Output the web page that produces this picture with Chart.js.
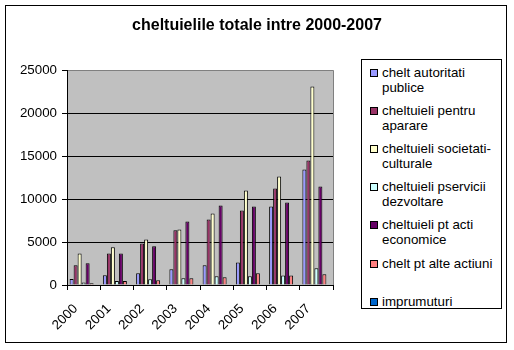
<!DOCTYPE html>
<html>
<head>
<meta charset="utf-8">
<script src="https://cdn.jsdelivr.net/npm/chart.js@4.4.1/dist/chart.umd.min.js"></script>
<style>
  html, body { margin:0; padding:0; background:#fff; }
  #wrap { position:relative; width:514px; height:350px; }
  #c { position:absolute; left:0; top:0; }
  #legend { position:absolute; left:361px; top:59px; width:141px; height:250px; border:1px solid #000; background:#fff;
            font-family: Arial, "Liberation Sans", sans-serif; font-size:13.33px; color:#000; box-sizing:border-box; }
  .li { position:absolute; left:0; width:140px; }
  .sw { position:absolute; left:8px; top:4px; width:6px; height:6px; border:1px solid #000; }
  .tx { position:absolute; left:20px; top:0; width:119px; line-height:15px; white-space:normal; }
</style>
</head>
<body>
<div id="wrap">
  <canvas id="c" width="514" height="350"></canvas>
  <div id="legend"></div>
</div>
<script>
const years = ['2000','2001','2002','2003','2004','2005','2006','2007'];
const seriesNames = ['chelt autoritati publice','cheltuieli pentru aparare','cheltuieli societati-culturale','cheltuieli pservicii dezvoltare','cheltuieli pt acti economice','chelt pt alte actiuni','imprumuturi'];
const autoritati  = [700, 1130, 1360, 1820, 2290, 2630, 9150, 13450];
const aparare     = [2300, 3680, 4840, 6360, 7630, 8680, 11240, 14490];
const societati   = [3680, 4380, 5310, 6470, 8330, 11010, 12640, 23100];
const pservicii   = [300, 460, 660, 780, 1010, 1010, 1120, 1940];
const economice   = [2520, 3680, 4500, 7400, 9260, 9150, 9610, 11470];
const alte        = [200, 460, 540, 780, 900, 1360, 1120, 1240];
const imprumuturi = [null, null, null, null, null, null, null, null];
const yTicks = [0, 5000, 10000, 15000, 20000, 25000];
const colors = ['#9999FF','#993366','#FFFFCC','#CCFFFF','#660066','#FF8080','#0066CC'];
const seriesData = [autoritati, aparare, societati, pservicii, economice, alte, imprumuturi];

const FONT = 'Arial, "Liberation Sans", sans-serif';

const datasets = seriesData.map((d, i) => ({
  label: seriesNames[i],
  data: d,
  backgroundColor: colors[i],
  borderColor: '#000',
  borderWidth: 1,
  borderSkipped: 'bottom',
  categoryPercentage: 0.842,
  barPercentage: 1.0
}));

const decor = {
  id: 'decor',
  beforeDraw(chart) {
    const ctx = chart.ctx, a = chart.chartArea;
    ctx.save();
    ctx.fillStyle = '#fff';
    ctx.fillRect(0, 0, chart.width, chart.height);
    ctx.fillStyle = '#C0C0C0';
    ctx.fillRect(a.left, a.top, a.right - a.left, a.bottom - a.top);
    ctx.restore();
  },
  afterDraw(chart) {
    const ctx = chart.ctx, a = chart.chartArea;
    ctx.save();
    ctx.strokeStyle = '#808080';
    ctx.lineWidth = 1;
    ctx.beginPath();
    ctx.moveTo(Math.round(a.right) + 0.5, a.top);
    ctx.lineTo(Math.round(a.right) + 0.5, a.bottom);
    ctx.stroke();
    ctx.strokeStyle = '#000';
    ctx.strokeRect(5.5, 5.5, 501, 337);
    ctx.restore();
  }
};

new Chart(document.getElementById('c'), {
  type: 'bar',
  data: { labels: years, datasets },
  options: {
    responsive: false,
    animation: false,
    devicePixelRatio: 1,
    layout: { padding: 0 },
    plugins: {
      legend: { display: false },
      tooltip: { enabled: false },
      title: {
        display: true,
        text: 'cheltuielile totale intre 2000-2007',
        color: '#000',
        font: { family: FONT, size: 16, weight: 'bold', lineHeight: 1.2 },
        padding: { top: 16, bottom: 35 }
      }
    },
    scales: {
      x: {
        grid: { drawOnChartArea: false, offset: true, tickLength: 5, color: '#000', tickColor: '#000' },
        border: { color: '#000', width: 1 },
        ticks: { color: '#000', font: { family: FONT, size: 13.33 }, minRotation: 45, maxRotation: 45, padding: 11, labelOffset: -8, autoSkip: false },
        afterFit(s) { s.height = 65; }
      },
      y: {
        min: 0, max: 25000,
        afterBuildTicks(s) { s.ticks = yTicks.map(v => ({ value: v })); },
        grid: { color: c => (c.tick && c.tick.value === 25000) ? '#808080' : '#000', tickLength: 5, tickColor: '#000' },
        border: { color: '#000', width: 1 },
        ticks: { color: '#000', font: { family: FONT, size: 13.33 }, padding: 5, callback: v => String(v) },
        afterFit(s) { s.width = 67; }
      },
      yr: {
        position: 'right',
        display: true,
        grid: { display: false, drawTicks: false },
        border: { display: false },
        ticks: { display: false },
        afterFit(s) { s.width = 181; }
      }
    }
  },
  plugins: [decor]
});

const leg = document.getElementById('legend');
seriesNames.forEach((name, i) => {
  const li = document.createElement('div');
  li.className = 'li';
  li.style.top = (4.5 + i * 38.2) + 'px';
  const sw = document.createElement('div');
  sw.className = 'sw';
  sw.style.background = colors[i];
  const tx = document.createElement('div');
  tx.className = 'tx';
  tx.textContent = name;
  li.appendChild(sw); li.appendChild(tx);
  leg.appendChild(li);
});
</script>
</body>
</html>
